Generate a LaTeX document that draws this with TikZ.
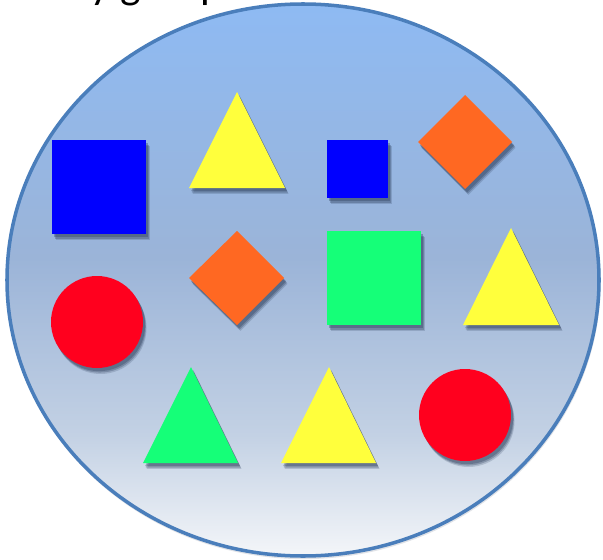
\documentclass[tikz,border=0pt]{standalone}
\usepackage{fontspec}
\setmainfont{Carlito}
\usetikzlibrary{shadows}
\definecolor{rimblue}{HTML}{4A7EBB}
\definecolor{topblue}{HTML}{8EBAF3}
\definecolor{midblue}{HTML}{9BB4D8}
\definecolor{lowmid}{HTML}{C3D1E4}
\definecolor{lowwhite}{HTML}{F4F6F9}
\definecolor{shadowgray}{HTML}{2E3F5C}
\definecolor{pureblue}{HTML}{0000FF}
\definecolor{sunyellow}{HTML}{FFFF3C}
\definecolor{brightorange}{HTML}{FF6822}
\definecolor{springgreen}{HTML}{15FF78}
\definecolor{hotred}{HTML}{FF001E}
\pgfdeclareverticalshading{bowlfill}{100bp}{color(0bp)=(lowwhite); color(25bp)=(lowwhite);
  color(36bp)=(lowmid); color(52bp)=(midblue); color(75bp)=(topblue); color(100bp)=(topblue)}
\tikzset{
  flat/.style={drop shadow={shadow xshift=5pt,shadow yshift=-8.5pt,opacity=.2,fill=shadowgray},
               drop shadow={shadow xshift=4pt,shadow yshift=-6.5pt,opacity=.3,fill=shadowgray},
               drop shadow={shadow xshift=3pt,shadow yshift=-4.5pt,opacity=.35,fill=shadowgray}}
}
\begin{document}
\begin{tikzpicture}[x=0.05cm,y=-0.05cm]
    \useasboundingbox (0,0) rectangle (603,560);
    \node[anchor=base west,inner sep=0pt,font=\fontsize{62}{70}\selectfont] (title) at (43,-1) {Any group};
    \shade[shading=bowlfill,
      drop shadow={shadow xshift=1pt,shadow yshift=-3pt,opacity=.15,fill=shadowgray}] (303,280) ellipse [x radius=297,y radius=277];
    \draw[rimblue,line width=5pt] (303,280) ellipse [x radius=296,y radius=276];
    % top row
    \fill[pureblue,flat] (52,140) rectangle (146,234);
    \fill[sunyellow,flat] (237,92) -- (285,188) -- (189,188) -- cycle;
    \fill[pureblue,flat] (327,140) rectangle (388,198);
    \fill[brightorange,flat] (465,95) -- (512,142) -- (465,189) -- (418,142) -- cycle;
    % middle row
    \fill[hotred,flat] (97,322) ellipse [x radius=46,y radius=46];
    \fill[brightorange,flat] (237,231) -- (284,278) -- (237,325) -- (189,278) -- cycle;
    \fill[springgreen,flat] (327,231) rectangle (421,325);
    \fill[sunyellow,flat] (511,228) -- (559,325) -- (463,325) -- cycle;
    % bottom row
    \fill[springgreen,flat] (191,367) -- (238,463) -- (143,463) -- cycle;
    \fill[sunyellow,flat] (329,367) -- (376,463) -- (281,463) -- cycle;
    \fill[hotred,flat] (465,415) ellipse [x radius=46,y radius=46];
\end{tikzpicture}
\end{document}
